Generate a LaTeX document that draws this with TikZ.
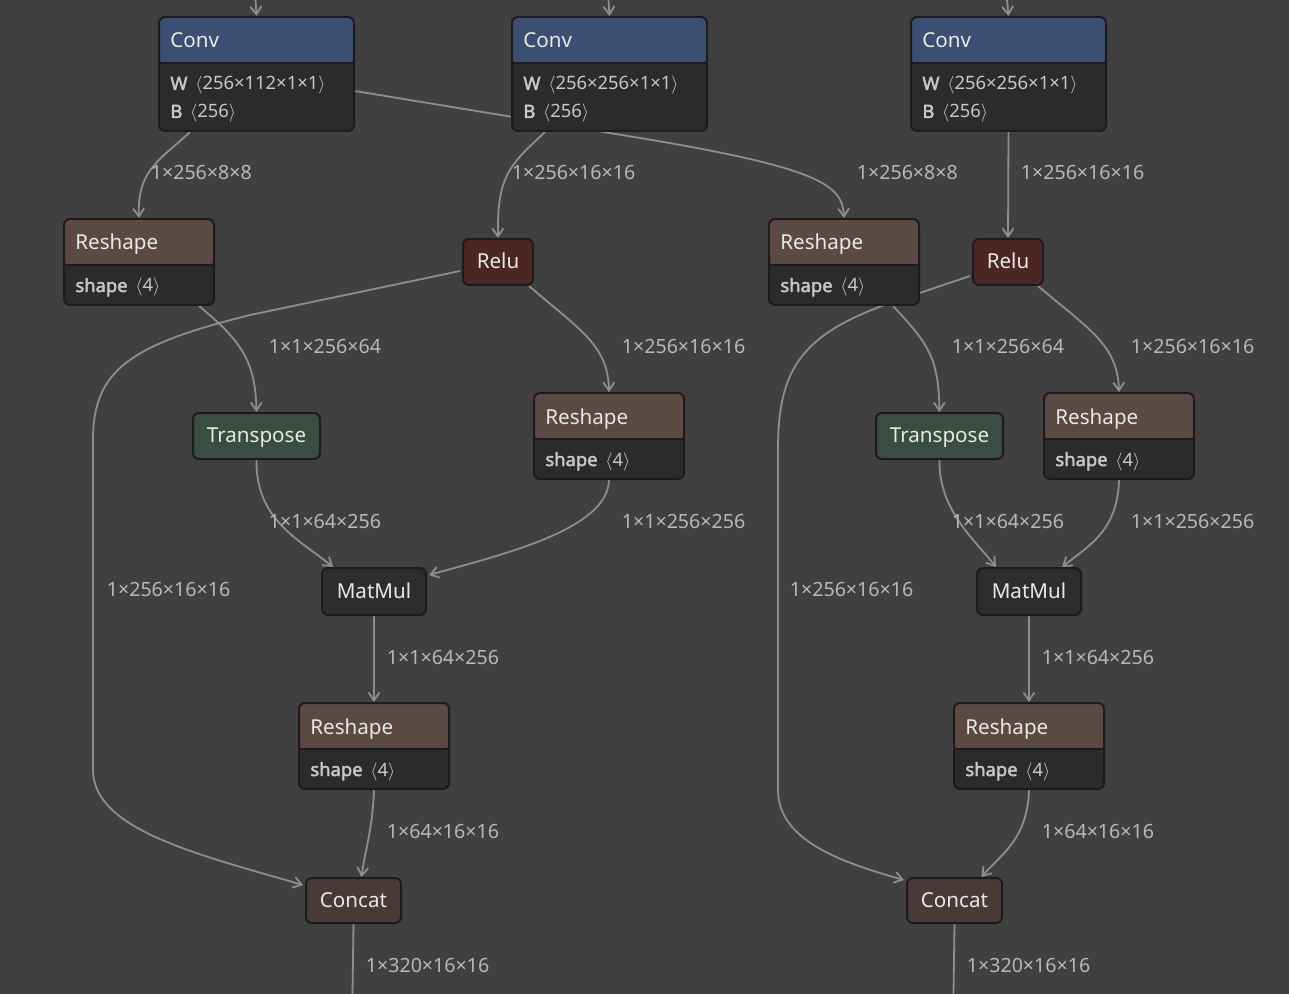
\documentclass[tikz,border=0pt]{standalone}
\usepackage{fontspec}
\setmainfont{Noto Sans}[AutoFakeBold=2.2]
\usetikzlibrary{arrows.meta,calc}
\definecolor{bgc}{HTML}{404040}
\definecolor{bodyc}{HTML}{2B2B2B}
\definecolor{bordc}{HTML}{1C1C1C}
\definecolor{convc}{HTML}{3C4E72}
\definecolor{reshapec}{HTML}{5B4A44}
\definecolor{reluc}{HTML}{4B2622}
\definecolor{transc}{HTML}{3A4D42}
\definecolor{matmulc}{HTML}{2D2D2D}
\definecolor{concatc}{HTML}{4A3A37}
\definecolor{edgec}{HTML}{8E8E8E}
\definecolor{labelc}{HTML}{B8B8B8}
\definecolor{titlec}{HTML}{E8E8E8}
\definecolor{attrc}{HTML}{C8C8C8}
\newcommand{\titlefont}{\fontsize{10.3}{12}\selectfont}
\newcommand{\attrfont}{\fontsize{9.2}{11}\selectfont}
\newcommand{\labelfont}{\fontsize{9.8}{12}\selectfont}
\pgfdeclarelayer{bglayer}
\pgfdeclarelayer{edgelayer}
\pgfsetlayers{bglayer,edgelayer,main}
\tikzset{
  opbox/.style={draw=bordc, line width=1pt, rounded corners=3pt, anchor=north west,
                inner sep=0pt, text=titlec, font=\titlefont},
  simplebox/.style={opbox, fill=#1, text height=8.2pt, text depth=1.4pt},
  attrbox/.style={opbox, fill=bodyc,
    path picture={
      \fill[#1] (path picture bounding box.north west) rectangle
        ($(path picture bounding box.north east)+(0,46)$);
      \draw[bordc, line width=1pt] ($(path picture bounding box.north west)+(0,46)$) --
        ($(path picture bounding box.north east)+(0,46)$);
    }},
  title/.style={anchor=base west, inner sep=0pt, text=titlec, font=\titlefont},
  attr/.style={anchor=base west, inner sep=0pt, text=attrc, font=\attrfont},
  edge/.style={draw=edgec, line width=0.9pt, -{Straight Barb[length=4pt,width=5.5pt]}},
  elabel/.style={anchor=base west, inner sep=0pt, text=labelc, font=\labelfont},
}

\begin{document}
\begin{tikzpicture}[x=0.5pt, y=-0.5pt]
  \begin{pgfonlayer}{bglayer}
    \fill[bgc] (0,0) rectangle (1289,994);
  \end{pgfonlayer}
  \useasboundingbox (0,0) rectangle (1289,994);

  % conv row
  \node[attrbox=convc, minimum width=97.5pt, minimum height=57pt] (conv1) at (158,16) {};
  \node[title] (conv1t) at ($(conv1.north west)+(12,32)$) {Conv};
  \node[attr] (conv1w) at ($(conv1.north west)+(12,74)$) {\textbf{W}\, $\langle$256×112×1×1$\rangle$};
  \node[attr] (conv1b) at ($(conv1.north west)+(12,102)$) {\textbf{B}\, $\langle$256$\rangle$};
  \node[attrbox=convc, minimum width=97.5pt, minimum height=57pt] (conv2) at (511,16) {};
  \node[title] (conv2t) at ($(conv2.north west)+(12,32)$) {Conv};
  \node[attr] (conv2w) at ($(conv2.north west)+(12,74)$) {\textbf{W}\, $\langle$256×256×1×1$\rangle$};
  \node[attr] (conv2b) at ($(conv2.north west)+(12,102)$) {\textbf{B}\, $\langle$256$\rangle$};
  \node[attrbox=convc, minimum width=97.5pt, minimum height=57pt] (conv3) at (910,16) {};
  \node[title] (conv3t) at ($(conv3.north west)+(12,32)$) {Conv};
  \node[attr] (conv3w) at ($(conv3.north west)+(12,74)$) {\textbf{W}\, $\langle$256×256×1×1$\rangle$};
  \node[attr] (conv3b) at ($(conv3.north west)+(12,102)$) {\textbf{B}\, $\langle$256$\rangle$};

  % reshape / relu row
  \node[attrbox=reshapec, minimum width=75pt, minimum height=43pt] (rs1) at (63,218) {};
  \node[title] (rs1t) at ($(rs1.north west)+(12,32)$) {Reshape};
  \node[attr] (rs1a) at ($(rs1.north west)+(12,74)$) {\textbf{shape}\, $\langle$4$\rangle$};
  \node[simplebox=reluc, minimum width=35pt, minimum height=23pt] (relu1) at (462,238) {Relu};
  \node[attrbox=reshapec, minimum width=75pt, minimum height=43pt] (rs2) at (768,218) {};
  \node[title] (rs2t) at ($(rs2.north west)+(12,32)$) {Reshape};
  \node[attr] (rs2a) at ($(rs2.north west)+(12,74)$) {\textbf{shape}\, $\langle$4$\rangle$};
  \node[simplebox=reluc, minimum width=35pt, minimum height=23pt] (relu2) at (972,238) {Relu};

  % transpose / reshape row
  \node[simplebox=transc, minimum width=63.5pt, minimum height=23pt] (tr1) at (192,412) {Transpose};
  \node[attrbox=reshapec, minimum width=75pt, minimum height=43pt] (rs3) at (533,392) {};
  \node[title] (rs3t) at ($(rs3.north west)+(12,32)$) {Reshape};
  \node[attr] (rs3a) at ($(rs3.north west)+(12,74)$) {\textbf{shape}\, $\langle$4$\rangle$};
  \node[simplebox=transc, minimum width=63.5pt, minimum height=23pt] (tr2) at (875,412) {Transpose};
  \node[attrbox=reshapec, minimum width=75pt, minimum height=43pt] (rs4) at (1043,392) {};
  \node[title] (rs4t) at ($(rs4.north west)+(12,32)$) {Reshape};
  \node[attr] (rs4a) at ($(rs4.north west)+(12,74)$) {\textbf{shape}\, $\langle$4$\rangle$};

  % matmul, reshape, concat
  \node[simplebox=matmulc, minimum width=52pt, minimum height=23.5pt] (mm1) at (321,567) {MatMul};
  \node[simplebox=matmulc, minimum width=52pt, minimum height=23.5pt] (mm2) at (976,567) {MatMul};
  \node[attrbox=reshapec, minimum width=75pt, minimum height=43pt] (rs5) at (298,702) {};
  \node[title] (rs5t) at ($(rs5.north west)+(12,32)$) {Reshape};
  \node[attr] (rs5a) at ($(rs5.north west)+(12,74)$) {\textbf{shape}\, $\langle$4$\rangle$};
  \node[attrbox=reshapec, minimum width=75pt, minimum height=43pt] (rs6) at (953,702) {};
  \node[title] (rs6t) at ($(rs6.north west)+(12,32)$) {Reshape};
  \node[attr] (rs6a) at ($(rs6.north west)+(12,74)$) {\textbf{shape}\, $\langle$4$\rangle$};
  \node[simplebox=concatc, minimum width=47.5pt, minimum height=22.5pt] (cat1) at (305,877) {Concat};
  \node[simplebox=concatc, minimum width=47.5pt, minimum height=22.5pt] (cat2) at (906,877) {Concat};

  \coordinate (in1) at (255.5,0);
  \coordinate (in2) at (608.5,0);
  \coordinate (in3) at (1007,0);
  \coordinate (out1) at (352.5,994);
  \coordinate (out2) at (953.5,994);

  \begin{pgfonlayer}{edgelayer}
    \draw[edge] (in1) -- (conv1.north);
    \draw[edge] (in2) -- (conv2.north);
    \draw[edge] (in3) -- (conv3.north);
    \draw[edge] ($(conv1.south west)+(32,0)$) .. controls (160,160) and (137,170) .. (rs1.north)
      node[elabel] (lb1) at (150,180) {1×256×8×8};
    \draw[edge] ($(conv1.east)+(0,17)$) -- (640,138) .. controls (820,168) and (842.5,185) .. (rs2.north)
      node[elabel] (lb2) at (856,180) {1×256×8×8};
    \draw[edge] ($(conv2.south west)+(34,0)$) .. controls (510,165) and (497,175) .. (relu1.north)
      node[elabel] (lb3) at (511,180) {1×256×16×16};
    \draw[edge] (conv3.south) -- (relu2.north)
      node[elabel] (lb4) at (1020,180) {1×256×16×16};
    \draw[edge] ($(rs1.south east)+(-16,0)$) .. controls (240,340) and (255.5,360) .. (tr1.north)
      node[elabel] (lb5) at (268,354) {1×1×256×64};
    \draw[edge] ($(relu1.west)+(-2,9)$) -- (250,315) .. controls (130,345) and (93,370) .. (93,440)
      -- (93,770) .. controls (93,830) and (200,855) .. ($(cat1.north west)+(-2,8)$)
      node[elabel] (lb6) at (106,596) {1×256×16×16};
    \draw[edge] ($(relu1.south east)+(-5,0)$) .. controls (580,330) and (608,345) .. (rs3.north)
      node[elabel] (lb7) at (621,354) {1×256×16×16};
    \draw[edge] ($(rs2.south east)+(-27,0)$) .. controls (930,345) and (938.5,360) .. (tr2.north)
      node[elabel] (lb8) at (951,354) {1×1×256×64};
    \draw[edge] ($(relu2.west)+(-2,14)$) -- (890,303) .. controls (800,335) and (778,370) .. (778,450)
      -- (778,790) .. controls (778,840) and (840,862) .. ($(cat2.north west)+(-2,3)$)
      node[elabel] (lb9) at (789,596) {1×256×16×16};
    \draw[edge] ($(relu2.south east)+(-6,0)$) .. controls (1090,330) and (1117.5,345) .. (rs4.north)
      node[elabel] (lb10) at (1130,354) {1×256×16×16};
    \draw[edge] (tr1.south) .. controls (255.5,520) and (300,540) .. ($(mm1.north west)+(12,0)$)
      node[elabel] (lb11) at (268,528) {1×1×64×256};
    \draw[edge] (rs3.south) .. controls (608,530) and (500,555) .. ($(mm1.north east)+(2,8)$)
      node[elabel] (lb12) at (621,528) {1×1×256×256};
    \draw[edge] (tr2.south) .. controls (938.5,510) and (975,540) .. ($(mm2.north west)+(20,0)$)
      node[elabel] (lb13) at (951,528) {1×1×64×256};
    \draw[edge] (rs4.south) .. controls (1117.5,530) and (1090,545) .. ($(mm2.north east)+(-20,0)$)
      node[elabel] (lb14) at (1130,528) {1×1×256×256};
    \draw[edge] (mm1.south) -- (rs5.north)
      node[elabel] (lb15) at (386,664) {1×1×64×256};
    \draw[edge] (mm2.south) -- (rs6.north)
      node[elabel] (lb16) at (1041,664) {1×1×64×256};
    \draw[edge] (rs5.south) .. controls (372.5,830) and (365,850) .. ($(cat1.north)+(8,0)$)
      node[elabel] (lb17) at (386,838) {1×64×16×16};
    \draw[edge] (rs6.south) .. controls (1027.5,840) and (1000,855) .. ($(cat2.north)+(27,0)$)
      node[elabel] (lb18) at (1041,838) {1×64×16×16};
    \draw[draw=edgec, line width=0.9pt] (cat1.south) -- (out1)
      node[elabel] (lb19) at (365,972) {1×320×16×16};
    \draw[draw=edgec, line width=0.9pt] (cat2.south) -- (out2)
      node[elabel] (lb20) at (966,972) {1×320×16×16};
  \end{pgfonlayer}
\end{tikzpicture}
\end{document}
